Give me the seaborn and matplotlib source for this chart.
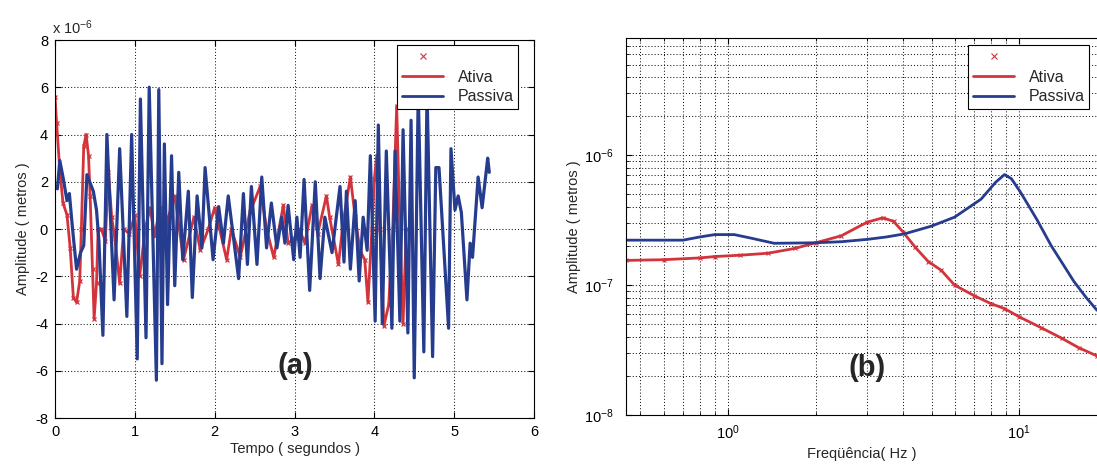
import matplotlib
matplotlib.use('Agg')
import matplotlib.pyplot as plt
import seaborn as sns
from matplotlib.lines import Line2D
from matplotlib.ticker import LogLocator, NullFormatter, LogFormatterSciNotation

# ---------------- data ----------------
# (a) time response, amplitude in units of 1e-6 m
t_ativa = [0.00, 0.02, 0.06, 0.10, 0.15, 0.19, 0.23, 0.27, 0.31, 0.33, 0.36, 0.39,
           0.42, 0.44, 0.47, 0.49, 0.52, 0.54, 0.58, 0.63, 0.67, 0.71, 0.75, 0.81,
           0.86, 0.93, 1.00, 1.06, 1.13, 1.19, 1.25, 1.31, 1.38, 1.42, 1.50, 1.61,
           1.74, 1.82, 1.92, 2.00, 2.15, 2.21, 2.32, 2.44, 2.57, 2.65, 2.74, 2.86,
           2.92, 3.00, 3.06, 3.13, 3.22, 3.29, 3.40, 3.44, 3.55, 3.61, 3.70, 3.76,
           3.82, 3.88, 3.92, 3.97, 4.00, 4.03, 4.07, 4.12, 4.18, 4.23, 4.28, 4.32,
           4.36, 4.40]
amp_ativa = [5.6, 4.5, 2.5, 1.1, 0.6, -0.8, -2.9, -3.1, -2.2, 0.0, 3.5, 4.0,
             3.1, 1.4, -1.7, -3.8, -2.3, 0.0, 0.0, -0.5, 2.4, 0.5, -0.4, -2.3,
             0.0, -0.2, 0.6, -2.0, 0.0, 0.9, -0.3, 0.9, -0.5, 0.5, 1.4, -1.3,
             0.5, -0.9, 0.0, 0.9, -1.3, 0.0, -1.2, 0.7, 1.8, 0.0, -1.2, 1.0,
             -0.6, -0.4, 0.0, -0.6, 1.0, -0.2, 1.4, 0.5, -1.5, 0.3, 2.2, 0.5,
             -0.9, -1.3, -3.1, 0.0, 2.1, 3.1, 0.0, -4.1, -3.2, 0.0, 5.2, 0.0,
             -4.0, 0.0]

t_passiva = [0.00, 0.03, 0.06, 0.10, 0.15, 0.18, 0.22, 0.27, 0.32, 0.36, 0.40, 0.48,
             0.52, 0.55, 0.60, 0.65, 0.74, 0.81, 0.90, 0.96, 1.03, 1.07, 1.14, 1.18,
             1.27, 1.30, 1.34, 1.37, 1.41, 1.46, 1.50, 1.55, 1.60, 1.67, 1.72, 1.78,
             1.84, 1.88, 1.98, 2.05, 2.11, 2.17, 2.30, 2.36, 2.41, 2.46, 2.53, 2.59,
             2.65, 2.71, 2.78, 2.84, 2.88, 2.92, 2.99, 3.03, 3.07, 3.12, 3.19, 3.26,
             3.32, 3.38, 3.47, 3.57, 3.62, 3.65, 3.70, 3.76, 3.81, 3.86, 3.91, 3.95,
             4.01, 4.05, 4.10, 4.15, 4.22, 4.26, 4.32, 4.36, 4.42, 4.46, 4.50, 4.55,
             4.62, 4.66, 4.73, 4.77, 4.81, 4.93, 4.96, 5.01, 5.05, 5.09, 5.16, 5.20,
             5.23, 5.30, 5.35, 5.42, 5.44]
amp_passiva = [1.8, 1.7, 2.9, 2.2, 1.2, 1.5, 0.0, -1.7, -1.0, -0.7, 2.3, 1.6,
               0.8, -0.5, -4.5, 4.0, -3.0, 3.4, -3.7, 4.0, -5.5, 5.5, -4.6, 6.0,
               -6.4, 5.9, -5.7, 3.6, -3.2, 3.1, -2.4, 2.4, -1.3, 1.6, -2.9, 1.4,
               -0.8, 2.6, -1.3, 0.95, -0.6, 1.4, -2.1, 1.5, -1.5, 1.8, -1.5, 2.2,
               -0.8, 1.1, -0.8, 0.5, -0.6, 1.0, -1.3, 0.5, -1.2, 2.1, -2.6, 2.0,
               -2.1, 0.5, -1.0, 1.8, -1.4, 1.6, -1.7, 1.2, -2.2, 0.5, -0.9, 3.1,
               -3.9, 4.4, -4.0, 3.3, -4.2, 3.3, -3.9, 4.2, -4.4, 4.6, -6.3, 5.8,
               -5.2, 5.8, -5.4, 2.6, 2.6, -4.2, 3.4, 0.8, 1.4, 0.7, -3.0, -0.6,
               -1.2, 2.2, 0.9, 3.0, 2.4]

# (b) frequency response, amplitude in metres
freq_ativa = [0.446, 0.6, 0.8, 0.9, 1.1, 1.37, 1.7, 2.0, 2.45, 3.0, 3.4, 3.7, 4.0,
              4.4, 4.87, 5.4, 6.0, 7.0, 8.0, 8.9, 10.0, 11.9, 14.0, 16.0, 18.5]
mag_ativa = [1.55e-7, 1.57e-7, 1.62e-7, 1.66e-7, 1.70e-7, 1.76e-7, 1.92e-7, 2.12e-7,
             2.40e-7, 3.05e-7, 3.30e-7, 3.10e-7, 2.55e-7, 1.95e-7, 1.52e-7, 1.30e-7,
             1.00e-7, 8.3e-8, 7.2e-8, 6.6e-8, 5.7e-8, 4.7e-8, 3.9e-8, 3.3e-8, 2.85e-8]
freq_passiva = [0.446, 0.7, 0.8, 0.9, 1.05, 1.2, 1.44, 2.0, 2.45, 3.0, 3.5, 4.03, 5.0,
                6.0, 7.4, 8.3, 8.9, 9.4, 10.1, 11.5, 12.9, 14.0, 15.4, 17.0, 18.5]
mag_passiva = [2.22e-7, 2.22e-7, 2.35e-7, 2.45e-7, 2.45e-7, 2.30e-7, 2.10e-7, 2.12e-7,
               2.16e-7, 2.25e-7, 2.35e-7, 2.48e-7, 2.85e-7, 3.34e-7, 4.6e-7, 6.2e-7,
               7.1e-7, 6.6e-7, 5.2e-7, 3.2e-7, 2.0e-7, 1.5e-7, 1.07e-7, 8.0e-8, 6.4e-8]

legend_labels = ['', 'Ativa', 'Passiva']
time_ticks = [0, 1, 2, 3, 4, 5, 6]
amp_ticks = [-8, -6, -4, -2, 0, 2, 4, 6, 8]

# ---------------- style ----------------
sns.set_style('ticks')
plt.rcParams['font.family'] = ['Liberation Sans', 'DejaVu Sans']
plt.rcParams['axes.unicode_minus'] = False
plt.rcParams['mathtext.fontset'] = 'custom'
plt.rcParams['mathtext.rm'] = 'Liberation Sans'
plt.rcParams['mathtext.it'] = 'Liberation Sans:italic'
plt.rcParams['mathtext.bf'] = 'Liberation Sans:bold'

RED = '#d3343c'
BLUE = '#263c8e'
W, H = 1097, 468

fig = plt.figure(figsize=(W / 100, H / 100), dpi=100)
fig.patch.set_facecolor('white')
ax1 = fig.add_axes([55 / W, 1 - 418 / H, (534 - 55) / W, (418 - 40) / H])
ax2 = fig.add_axes([626 / W, 1 - 415 / H, (W - 626) / W, (415 - 38) / H])

grid_kw = dict(color='#1a1a1a', linestyle=(0, (1, 2)), linewidth=0.75)

# ---------------- (a) ----------------
sns.lineplot(x=t_ativa, y=amp_ativa, sort=False, estimator=None, ax=ax1, color=RED,
             lw=2.0, marker='x', markersize=3.5, markeredgewidth=0.9, markeredgecolor=RED)
sns.lineplot(x=t_passiva, y=amp_passiva, sort=False, estimator=None, ax=ax1, color=BLUE,
             lw=2.3)
ax1.set_xlim(0, 6)
ax1.set_ylim(-8, 8)
ax1.set_xticks(time_ticks)
ax1.set_yticks(amp_ticks)
ax1.grid(True, **grid_kw)
ax1.tick_params(direction='in', top=True, right=True, length=4, labelsize=10.5, pad=5,
                colors='black')
ax1.set_xlabel('Tempo ( segundos )', fontsize=10.5, labelpad=2)
ax1.set_ylabel('Amplitude ( metros )', fontsize=10.5, labelpad=4)
fig.text(52 / W, 1 - 28 / H, r'x 10$^{-6}$', fontsize=10.5, ha='left', va='center')
fig.text(295 / W, 1 - 366 / H, '(a)', fontsize=21, fontweight='bold', ha='center', va='center')

# ---------------- (b) ----------------
sns.lineplot(x=freq_ativa, y=mag_ativa, sort=False, estimator=None, ax=ax2, color=RED,
             lw=2.0, marker='x', markersize=3, markeredgewidth=0.8, markeredgecolor=RED)
sns.lineplot(x=freq_passiva, y=mag_passiva, sort=False, estimator=None, ax=ax2, color=BLUE,
             lw=2.0)
ax2.set_xscale('log')
ax2.set_yscale('log')
ax2.set_xlim(0.446, 18.5)
ax2.set_ylim(1e-8, 8e-6)
ax2.xaxis.set_major_locator(LogLocator(base=10))
ax2.xaxis.set_minor_locator(LogLocator(base=10, subs=range(2, 10)))
ax2.xaxis.set_minor_formatter(NullFormatter())
ax2.yaxis.set_major_locator(LogLocator(base=10))
ax2.yaxis.set_minor_locator(LogLocator(base=10, subs=range(2, 10)))
ax2.yaxis.set_minor_formatter(NullFormatter())
ax2.xaxis.set_major_formatter(LogFormatterSciNotation())
ax2.yaxis.set_major_formatter(LogFormatterSciNotation())
ax2.grid(True, which='both', **grid_kw)
ax2.spines['right'].set_visible(False)
ax2.tick_params(which='both', direction='in', top=True, right=False, labelsize=10.5,
                colors='black')
ax2.tick_params(which='major', length=4, pad=9)
ax2.tick_params(which='minor', length=2)
ax2.tick_params(axis='x', which='major', pad=6)
ax2.set_xlabel('Freqüência( Hz )', fontsize=10.5, labelpad=4)
ax2.set_ylabel('Amplitude ( metros )', fontsize=10.5, labelpad=2)
fig.text(867 / W, 1 - 368 / H, '(b)', fontsize=21, fontweight='bold', ha='center', va='center')

for ax in (ax1, ax2):
    for s in ax.spines.values():
        s.set_color('black')
        s.set_linewidth(0.8)
    if ax.get_legend() is not None:
        ax.get_legend().remove()

# ---------------- legends ----------------
def make_handles():
    return [Line2D([], [], color=RED, marker='x', linestyle='None', markersize=4,
                   markeredgewidth=0.8),
            Line2D([], [], color=RED, lw=2),
            Line2D([], [], color=BLUE, lw=2)]

for x0 in (397, 968):
    leg = fig.legend(make_handles(), legend_labels, loc='upper left',
                     bbox_to_anchor=(x0 / W, 1 - 45 / H), borderaxespad=0,
                     frameon=True, fancybox=False, edgecolor='black', framealpha=1,
                     fontsize=11.5, handlelength=2.6, handletextpad=0.9,
                     borderpad=0.3, labelspacing=0.3)
    leg.get_frame().set_linewidth(0.8)

fig.savefig('out.png', dpi=100, facecolor='white')
